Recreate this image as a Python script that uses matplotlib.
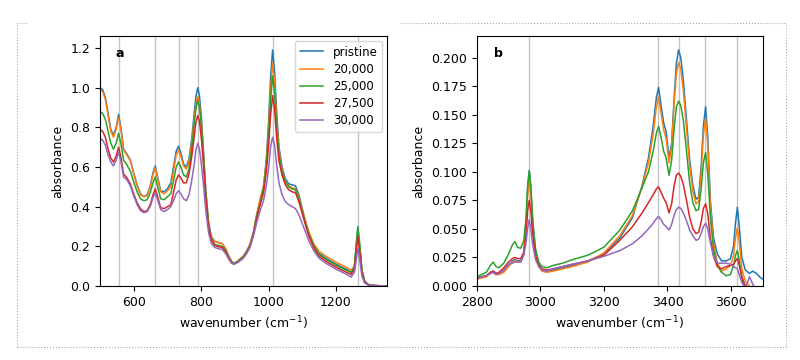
import numpy as np
import matplotlib
matplotlib.use("Agg")
import matplotlib.pyplot as plt
from matplotlib.lines import Line2D

# sample names (legend)
labels = ["pristine", "20,000", "25,000", "27,500", "30,000"]
colors = ["#1f77b4", "#ff7f0e", "#2ca02c", "#d62728", "#9467bd"]

# ---- panel a : fingerprint region ----
wn_a = [500, 508, 516, 524, 532, 540, 548, 555, 562, 570,
        580, 590, 600, 610, 620, 630, 640, 650, 657, 664,
        671, 680, 690, 700, 710, 718, 726, 733, 740, 748,
        756, 764, 772, 780, 785, 790, 795, 801, 807, 814,
        822, 830, 840, 850, 862, 872, 882, 890, 897, 905,
        915, 925, 935, 945, 955, 965, 975, 985, 993, 1000,
        1006, 1012, 1018, 1024, 1031, 1040, 1050, 1060, 1070, 1080,
        1090, 1100, 1110, 1120, 1135, 1150, 1170, 1200, 1230, 1245,
        1255, 1260, 1265, 1270, 1277, 1285, 1295, 1310, 1330, 1352]
a_pristine = [1.00, 0.99, 0.95, 0.87, 0.79, 0.76, 0.80, 0.865, 0.80, 0.69,
              0.665, 0.635, 0.57, 0.51, 0.465, 0.45, 0.46, 0.51, 0.57, 0.605,
              0.55, 0.48, 0.475, 0.49, 0.52, 0.60, 0.68, 0.705, 0.67, 0.615,
              0.60, 0.64, 0.74, 0.88, 0.96, 1.00, 0.96, 0.85, 0.68, 0.48,
              0.32, 0.25, 0.225, 0.22, 0.215, 0.19, 0.15, 0.125, 0.115, 0.12,
              0.135, 0.15, 0.175, 0.21, 0.27, 0.36, 0.43, 0.50, 0.63, 0.82,
              1.05, 1.19, 1.08, 0.88, 0.70, 0.60, 0.54, 0.515, 0.51, 0.505,
              0.46, 0.39, 0.32, 0.26, 0.20, 0.165, 0.14, 0.11, 0.085, 0.07,
              0.10, 0.20, 0.29, 0.21, 0.08, 0.025, 0.008, 0.003, 0.001, 0.0]
a_20000 = [0.99, 0.98, 0.94, 0.86, 0.78, 0.75, 0.79, 0.85, 0.79, 0.685,
           0.66, 0.63, 0.565, 0.505, 0.46, 0.45, 0.455, 0.505, 0.56, 0.595,
           0.54, 0.475, 0.465, 0.48, 0.50, 0.58, 0.66, 0.685, 0.655, 0.605,
           0.59, 0.625, 0.72, 0.85, 0.92, 0.955, 0.92, 0.82, 0.66, 0.47,
           0.32, 0.25, 0.225, 0.22, 0.215, 0.19, 0.15, 0.125, 0.115, 0.12,
           0.135, 0.15, 0.175, 0.21, 0.27, 0.36, 0.44, 0.50, 0.62, 0.79,
           0.99, 1.125, 1.03, 0.84, 0.68, 0.585, 0.53, 0.505, 0.495, 0.49,
           0.45, 0.385, 0.325, 0.27, 0.21, 0.175, 0.15, 0.12, 0.095, 0.08,
           0.10, 0.19, 0.27, 0.20, 0.08, 0.025, 0.008, 0.003, 0.001, 0.0]
a_25000 = [0.88, 0.87, 0.84, 0.78, 0.72, 0.69, 0.72, 0.77, 0.72, 0.635,
           0.61, 0.58, 0.525, 0.475, 0.44, 0.43, 0.435, 0.475, 0.52, 0.55,
           0.50, 0.44, 0.435, 0.45, 0.465, 0.53, 0.60, 0.625, 0.60, 0.56,
           0.55, 0.59, 0.69, 0.83, 0.90, 0.935, 0.90, 0.80, 0.65, 0.46,
           0.31, 0.24, 0.21, 0.205, 0.20, 0.18, 0.145, 0.122, 0.115, 0.12,
           0.133, 0.148, 0.172, 0.205, 0.265, 0.35, 0.42, 0.49, 0.60, 0.76,
           0.94, 1.06, 0.97, 0.80, 0.66, 0.575, 0.525, 0.50, 0.49, 0.485,
           0.44, 0.375, 0.315, 0.26, 0.20, 0.16, 0.135, 0.105, 0.08, 0.068,
           0.10, 0.21, 0.30, 0.22, 0.08, 0.025, 0.008, 0.003, 0.001, 0.0]
a_27500 = [0.79, 0.78, 0.75, 0.69, 0.645, 0.625, 0.655, 0.70, 0.65, 0.565,
           0.545, 0.515, 0.465, 0.42, 0.39, 0.375, 0.38, 0.415, 0.46, 0.49,
           0.45, 0.395, 0.39, 0.40, 0.41, 0.47, 0.535, 0.56, 0.545, 0.52,
           0.52, 0.565, 0.65, 0.76, 0.83, 0.86, 0.83, 0.74, 0.61, 0.44,
           0.30, 0.235, 0.205, 0.198, 0.195, 0.175, 0.14, 0.118, 0.11, 0.116,
           0.128, 0.143, 0.167, 0.20, 0.26, 0.34, 0.41, 0.47, 0.57, 0.70,
           0.86, 0.96, 0.89, 0.75, 0.63, 0.56, 0.51, 0.485, 0.475, 0.47,
           0.425, 0.365, 0.305, 0.25, 0.19, 0.15, 0.125, 0.095, 0.07, 0.058,
           0.085, 0.17, 0.25, 0.18, 0.065, 0.02, 0.006, 0.002, 0.001, 0.0]
a_30000 = [0.745, 0.735, 0.71, 0.66, 0.625, 0.605, 0.635, 0.675, 0.63, 0.55,
           0.535, 0.505, 0.455, 0.41, 0.38, 0.37, 0.375, 0.405, 0.445, 0.47,
           0.435, 0.385, 0.375, 0.385, 0.40, 0.43, 0.465, 0.48, 0.465, 0.44,
           0.43, 0.46, 0.53, 0.62, 0.69, 0.72, 0.69, 0.61, 0.51, 0.38,
           0.27, 0.215, 0.195, 0.188, 0.185, 0.165, 0.135, 0.115, 0.11, 0.115,
           0.126, 0.14, 0.163, 0.195, 0.25, 0.32, 0.38, 0.43, 0.50, 0.59,
           0.70, 0.75, 0.71, 0.61, 0.52, 0.46, 0.425, 0.41, 0.40, 0.39,
           0.36, 0.315, 0.27, 0.225, 0.175, 0.14, 0.115, 0.085, 0.06, 0.045,
           0.07, 0.13, 0.19, 0.14, 0.05, 0.015, 0.005, 0.002, 0.001, 0.0]
lines_a = [555, 662, 733, 790, 1012, 1265]

# ---- panel b : OH / CH stretching region ----
wn_b = [2800, 2815, 2830, 2843, 2852, 2860, 2870, 2885, 2900, 2912,
        2920, 2928, 2938, 2948, 2955, 2960, 2965, 2970, 2976, 2985,
        2995, 3005, 3020, 3040, 3070, 3100, 3150, 3200, 3250, 3290,
        3320, 3340, 3355, 3365, 3372, 3380, 3388, 3396, 3405, 3413,
        3421, 3428, 3435, 3442, 3450, 3460, 3470, 3480, 3490, 3498,
        3506, 3513, 3520, 3527, 3535, 3545, 3557, 3570, 3585, 3598,
        3608, 3614, 3620, 3626, 3634, 3645, 3658, 3668, 3680, 3690,
        3700]
b_pristine = [0.007, 0.008, 0.009, 0.012, 0.013, 0.011, 0.011, 0.013, 0.018, 0.022,
              0.023, 0.022, 0.022, 0.030, 0.055, 0.085, 0.101, 0.085, 0.055, 0.030,
              0.019, 0.014, 0.013, 0.014, 0.016, 0.018, 0.022, 0.028, 0.042, 0.060,
              0.088, 0.112, 0.140, 0.165, 0.174, 0.158, 0.143, 0.135, 0.112, 0.125,
              0.165, 0.195, 0.207, 0.200, 0.180, 0.145, 0.110, 0.088, 0.076, 0.078,
              0.105, 0.140, 0.157, 0.130, 0.075, 0.042, 0.028, 0.022, 0.022, 0.024,
              0.035, 0.055, 0.069, 0.052, 0.025, 0.014, 0.011, 0.013, 0.011, 0.008,
              0.006]
b_20000 = [0.006, 0.007, 0.008, 0.011, 0.012, 0.010, 0.010, 0.012, 0.017, 0.021,
           0.022, 0.021, 0.021, 0.028, 0.052, 0.080, 0.095, 0.080, 0.052, 0.028,
           0.017, 0.013, 0.012, 0.013, 0.015, 0.017, 0.021, 0.029, 0.044, 0.062,
           0.087, 0.108, 0.133, 0.157, 0.166, 0.151, 0.137, 0.129, 0.108, 0.122,
           0.160, 0.186, 0.196, 0.190, 0.171, 0.138, 0.105, 0.083, 0.072, 0.074,
           0.099, 0.132, 0.147, 0.122, 0.070, 0.037, 0.020, 0.013, 0.015, 0.018,
           0.027, 0.042, 0.051, 0.038, 0.015, 0.004, 0.000, -0.003, -0.004, -0.005,
           -0.005]
b_25000 = [0.008, 0.010, 0.012, 0.018, 0.021, 0.017, 0.016, 0.020, 0.028, 0.036,
           0.039, 0.034, 0.033, 0.040, 0.060, 0.088, 0.101, 0.088, 0.058, 0.032,
           0.021, 0.017, 0.016, 0.018, 0.020, 0.023, 0.027, 0.034, 0.049, 0.066,
           0.086, 0.100, 0.118, 0.134, 0.140, 0.130, 0.118, 0.112, 0.097, 0.110,
           0.138, 0.157, 0.162, 0.158, 0.145, 0.118, 0.090, 0.073, 0.066, 0.067,
           0.085, 0.108, 0.117, 0.098, 0.060, 0.032, 0.018, 0.012, 0.009, 0.010,
           0.018, 0.027, 0.031, 0.022, 0.007, -0.004, -0.008, -0.010, -0.010, -0.010,
           -0.010]
b_27500 = [0.007, 0.008, 0.009, 0.012, 0.013, 0.011, 0.012, 0.016, 0.021, 0.024,
           0.025, 0.024, 0.024, 0.029, 0.045, 0.066, 0.075, 0.066, 0.045, 0.026,
           0.018, 0.015, 0.014, 0.015, 0.017, 0.019, 0.022, 0.027, 0.040, 0.052,
           0.064, 0.073, 0.080, 0.085, 0.087, 0.082, 0.077, 0.073, 0.064, 0.072,
           0.088, 0.097, 0.099, 0.096, 0.089, 0.075, 0.060, 0.050, 0.046, 0.047,
           0.056, 0.068, 0.072, 0.063, 0.042, 0.026, 0.017, 0.015, 0.017, 0.018,
           0.019, 0.022, 0.024, 0.018, 0.008, 0.000, -0.004, -0.005, -0.005, -0.005,
           -0.005]
b_30000 = [0.007, 0.008, 0.009, 0.011, 0.012, 0.010, 0.011, 0.014, 0.019, 0.020,
           0.021, 0.021, 0.021, 0.027, 0.038, 0.051, 0.058, 0.050, 0.036, 0.023,
           0.017, 0.014, 0.013, 0.015, 0.017, 0.019, 0.022, 0.026, 0.031, 0.037,
           0.044, 0.050, 0.055, 0.059, 0.061, 0.058, 0.054, 0.052, 0.049, 0.054,
           0.062, 0.067, 0.069, 0.068, 0.064, 0.057, 0.049, 0.044, 0.040, 0.041,
           0.046, 0.052, 0.055, 0.050, 0.038, 0.026, 0.020, 0.020, 0.020, 0.019,
           0.017, 0.016, 0.015, 0.010, 0.003, -0.002, 0.008, 0.002, -0.005, -0.005,
           -0.005]
lines_b = [2965, 3370, 3435, 3518, 3620]

series_a = [a_pristine, a_20000, a_25000, a_27500, a_30000]
series_b = [b_pristine, b_20000, b_25000, b_27500, b_30000]

plt.rcParams['font.size'] = 9
fig = plt.figure(figsize=(8, 3.6), dpi=100)
ax1 = fig.add_axes([0.125, 0.2056, 0.359, 0.694])
ax2 = fig.add_axes([0.596, 0.2056, 0.3575, 0.694])

for x in lines_a:
    ax1.axvline(x, color='#c4c4c4', lw=1, zorder=0)
for y, c, lab in zip(series_a, colors, labels):
    ax1.plot(wn_a, y, color=c, lw=1.1, label=lab)
ax1.set_xlim(500, 1352)
ax1.set_ylim(0, 1.26)
ax1.set_xticks([600, 800, 1000, 1200])
ax1.set_yticks([0.0, 0.2, 0.4, 0.6, 0.8, 1.0, 1.2])
ax1.set_xlabel('wavenumber (cm$^{-1}$)')
ax1.set_ylabel('absorbance')
ax1.text(0.055, 0.93, 'a', transform=ax1.transAxes, fontweight='bold', va='center')
ax1.legend(loc='upper right', fontsize=8.5, handlelength=2.0, labelspacing=0.35,
           borderaxespad=0.4)

for x in lines_b:
    ax2.axvline(x, color='#c4c4c4', lw=1, zorder=0)
for y, c in zip(series_b, colors):
    ax2.plot(wn_b, y, color=c, lw=1.1)
ax2.set_xlim(2800, 3700)
ax2.set_ylim(0, 0.219)
ax2.set_xticks([2800, 3000, 3200, 3400, 3600])
ax2.set_yticks([0.0, 0.025, 0.05, 0.075, 0.1, 0.125, 0.15, 0.175, 0.2])
ax2.set_yticklabels(['%.3f' % v for v in ax2.get_yticks()])
ax2.set_xlabel('wavenumber (cm$^{-1}$)')
ax2.set_ylabel('absorbance')
ax2.text(0.06, 0.93, 'b', transform=ax2.transAxes, fontweight='bold', va='center')

# dotted frame around the figure (top edge partly missing)
kw = dict(color='#a8a8a8', lw=0.8, ls=':', transform=fig.transFigure)
x0, x1, y0, y1 = 17/800, 786/800, 1 - 347/360, 1 - 23/360
fig.add_artist(Line2D([x0, x0], [y0, y1], **kw))
fig.add_artist(Line2D([x0, x1], [y0, y0], **kw))
fig.add_artist(Line2D([x1, x1], [y0, y1], **kw))
fig.add_artist(Line2D([x0, 28/800], [y1, y1], **kw))
fig.add_artist(Line2D([401/800, x1], [y1, y1], **kw))

fig.savefig('out.png', dpi=100)
